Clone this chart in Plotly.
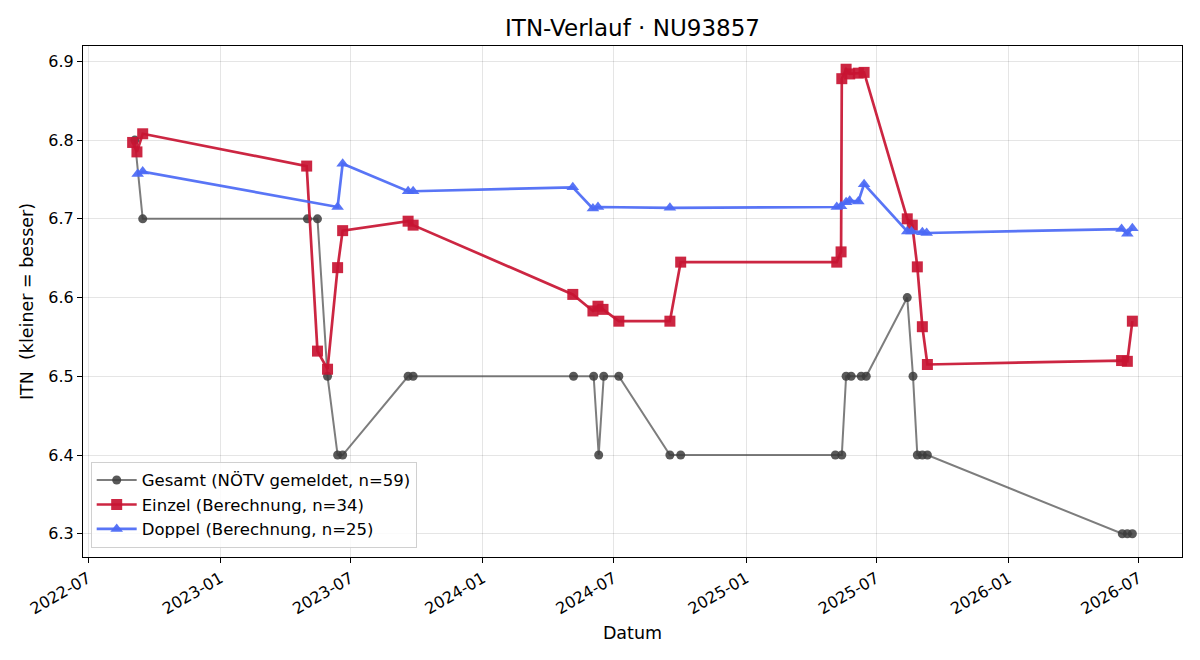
import plotly.graph_objects as go

gesamt_dates = ["2022-09-04", "2022-09-15", "2023-05-02", "2023-05-16", "2023-05-30", "2023-06-13",
                "2023-06-20", "2023-09-19", "2023-09-26", "2024-05-06", "2024-06-03", "2024-06-10",
                "2024-06-17", "2024-07-08", "2024-09-17", "2024-10-02", "2025-05-05", "2025-05-14",
                "2025-05-20", "2025-05-27", "2025-06-10", "2025-06-17", "2025-08-13", "2025-08-21",
                "2025-08-27", "2025-09-03", "2025-09-10", "2026-06-08", "2026-06-15", "2026-06-22"]
gesamt_vals = [6.8, 6.7, 6.7, 6.7, 6.5, 6.4,
               6.4, 6.5, 6.5, 6.5, 6.5, 6.4,
               6.5, 6.5, 6.4, 6.4, 6.4, 6.4,
               6.5, 6.5, 6.5, 6.5, 6.6, 6.5,
               6.4, 6.4, 6.4, 6.3, 6.3, 6.3]

einzel_dates = ["2022-09-01", "2022-09-07", "2022-09-15", "2023-05-01", "2023-05-16", "2023-05-30",
                "2023-06-13", "2023-06-20", "2023-09-19", "2023-09-26", "2024-05-05", "2024-06-02",
                "2024-06-09", "2024-06-16", "2024-07-08", "2024-09-17", "2024-10-02", "2025-05-07",
                "2025-05-13", "2025-05-14", "2025-05-20", "2025-05-25", "2025-06-06", "2025-06-14",
                "2025-08-13", "2025-08-20", "2025-08-27", "2025-09-03", "2025-09-10", "2026-06-07",
                "2026-06-15", "2026-06-22"]
einzel_vals = [6.797, 6.785, 6.808, 6.767, 6.532, 6.509,
               6.638, 6.685, 6.697, 6.692, 6.604, 6.583,
               6.589, 6.585, 6.570, 6.570, 6.645, 6.645,
               6.658, 6.878, 6.890, 6.884, 6.885, 6.886,
               6.700, 6.692, 6.639, 6.563, 6.515, 6.520,
               6.519, 6.570]

doppel_dates = ["2022-09-08", "2022-09-15", "2023-06-13", "2023-06-20", "2023-09-19", "2023-09-26",
                "2024-05-05", "2024-06-02", "2024-06-09", "2024-09-17", "2025-05-07", "2025-05-13",
                "2025-05-20", "2025-05-25", "2025-06-06", "2025-06-14", "2025-08-13", "2025-08-19",
                "2025-09-03", "2025-09-09", "2026-06-07", "2026-06-15", "2026-06-22"]
doppel_vals = [6.757, 6.760, 6.715, 6.770, 6.735, 6.735,
               6.740, 6.713, 6.715, 6.714, 6.715, 6.716,
               6.721, 6.723, 6.722, 6.744, 6.684, 6.684,
               6.683, 6.682, 6.687, 6.681, 6.688]

y_ticks = [6.3, 6.4, 6.5, 6.6, 6.7, 6.8, 6.9]

fig = go.Figure()
fig.add_trace(go.Scatter(
    x=gesamt_dates, y=gesamt_vals, mode="lines+markers",
    name="Gesamt (NÖTV gemeldet, n=59)",
    line=dict(color="rgba(70,70,70,0.7)", width=2),
    marker=dict(symbol="circle", size=9, color="rgba(60,60,60,0.85)"),
))
fig.add_trace(go.Scatter(
    x=einzel_dates, y=einzel_vals, mode="lines+markers",
    name="Einzel (Berechnung, n=34)",
    line=dict(color="rgba(200,20,50,0.92)", width=2.7),
    marker=dict(symbol="square", size=11, color="rgba(200,20,50,0.92)"),
))
fig.add_trace(go.Scatter(
    x=doppel_dates, y=doppel_vals, mode="lines+markers",
    name="Doppel (Berechnung, n=25)",
    line=dict(color="rgba(75,105,245,0.92)", width=2.7),
    marker=dict(symbol="triangle-up", size=11, color="rgba(75,105,245,0.92)"),
))

font_family = "DejaVu Sans"
fig.update_layout(
    width=1200, height=660,
    margin=dict(l=83, r=18, t=46, b=103),
    paper_bgcolor="white", plot_bgcolor="white",
    font=dict(family=font_family, size=16, color="black"),
    title=dict(text="ITN-Verlauf · NU93857", xref="paper", x=0.5, xanchor="center",
               y=0.958, yanchor="middle",
               font=dict(size=23, family=font_family)),
    showlegend=True,
    legend=dict(x=0.007, y=0.018, xanchor="left", yanchor="bottom",
                bordercolor="#d0d0d0", borderwidth=1, bgcolor="rgba(255,255,255,0.85)",
                font=dict(size=16.5, family=font_family), tracegroupgap=0, itemwidth=40),
)
fig.update_xaxes(
    type="date", range=["2022-06-24", "2026-08-30"],
    tick0="2022-07-01", dtick="M6", tickformat="%Y-%m", tickangle=-30,
    showgrid=True, gridcolor="rgba(0,0,0,0.1)", gridwidth=1,
    showline=True, linecolor="black", linewidth=1.2, mirror=True,
    ticks="outside", ticklen=5, tickcolor="black",
    tickfont=dict(size=16),
    title=dict(text="Datum", font=dict(size=17.5), standoff=9),
    zeroline=False,
)
fig.update_yaxes(
    range=[6.2705, 6.9195], tickvals=y_ticks, ticktext=[f"{v:.1f}" for v in y_ticks],
    showgrid=True, gridcolor="rgba(0,0,0,0.1)", gridwidth=1,
    showline=True, linecolor="black", linewidth=1.2, mirror=True,
    ticks="outside", ticklen=5, tickcolor="black",
    tickfont=dict(size=16),
    title=dict(text="ITN\u00a0 (kleiner = besser)", font=dict(size=17.5), standoff=10),
    zeroline=False,
)

fig.write_html("out.html")
